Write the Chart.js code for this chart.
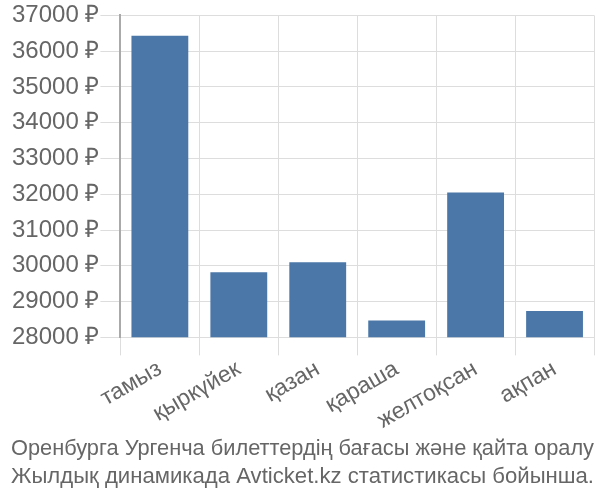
<!DOCTYPE html>
<html>
<head>
<meta charset="utf-8">
<script src="https://cdn.jsdelivr.net/npm/chart.js@4"></script>
<style>
  body { margin: 0; background: #fff; }
  #chart { display: block; }
</style>
</head>
<body>
<canvas id="chart" width="600" height="500"></canvas>
<script>
// months on the x axis
const months = ['тамыз', 'қыркүйек', 'қазан', 'қараша', 'желтоқсан', 'ақпан'];
// ticket price per month, roubles
const prices = [36430, 29820, 30100, 28470, 32050, 28740];
const titleLines = [
  'Оренбурга Ургенча билеттердің бағасы және қайта оралу',
  'Жылдық динамикада Avticket.kz статистикасы бойынша.'
];

const fontFamily = 'Liberation Sans, Arial, sans-serif';

const ctx = document.getElementById('chart');
new Chart(ctx, {
  type: 'bar',
  data: {
    labels: months,
    datasets: [{
      data: prices,
      backgroundColor: '#4a77a8',
      borderWidth: 0
    }]
  },
  options: {
    responsive: false,
    animation: false,
    layout: { padding: { left: 11, right: 6, top: 2, bottom: 0 } },
    plugins: {
      legend: { display: false },
      tooltip: { enabled: false },
      title: {
        display: true,
        position: 'bottom',
        text: titleLines,
        color: '#666',
        font: { family: fontFamily, size: 22.5, weight: 'normal', lineHeight: 1.25 },
        padding: { top: 0, bottom: 9 }
      }
    },
    scales: {
      x: {
        grid: { color: '#ddd', tickLength: 18, offset: true },
        border: { color: '#ddd' },
        ticks: {
          color: '#666',
          minRotation: 30,
          maxRotation: 30,
          padding: 0,
          font: { family: fontFamily, size: 23 }
        }
      },
      y: {
        min: 28000,
        max: 37000,
        grid: { color: '#ddd', tickLength: 20 },
        border: { color: '#aaa', width: 2 },
        ticks: {
          stepSize: 1000,
          color: '#666',
          padding: 1,
          font: { family: fontFamily, size: 24 },
          callback: v => v + ' ₽'
        }
      }
    }
  }
});
</script>
</body>
</html>
